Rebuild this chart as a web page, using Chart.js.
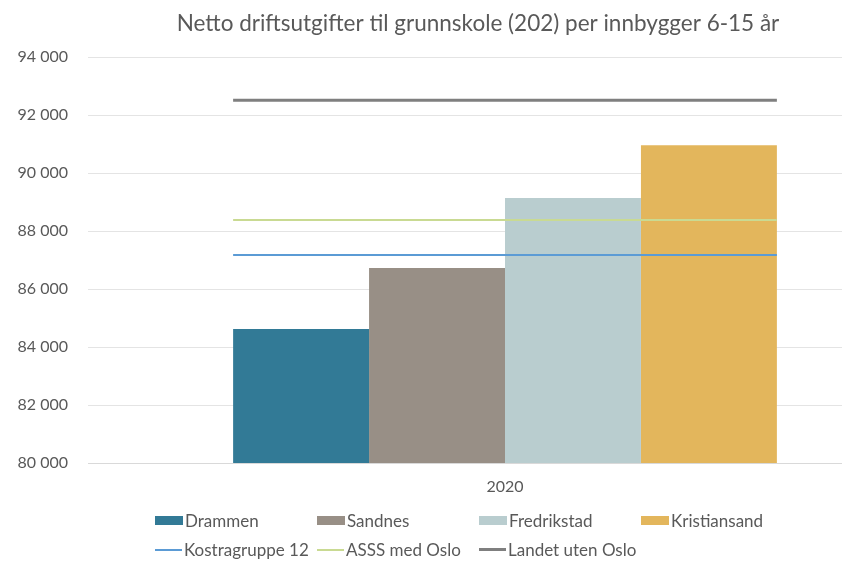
<!DOCTYPE html>
<html lang="no">
<head>
<meta charset="utf-8">
<script src="https://cdn.jsdelivr.net/npm/chart.js@4/dist/chart.umd.min.js"></script>
<style>
    html, body { margin: 0; padding: 0; background: #fff; overflow: hidden; }
    #wrap { position: relative; width: 842px; height: 561px; overflow: hidden; }
    #chartBox { position: absolute; left: 0; top: 0; width: 956px; height: 561px; }
    #legend {
        position: absolute; left: 155px; top: 511px;
        display: grid; grid-template-columns: repeat(4, 162px); row-gap: 10px;
        font-family: Lato, "Open Sans", sans-serif; font-size: 17px; color: #595959;
    }
    .item { display: flex; align-items: center; height: 19px; white-space: nowrap; }
    .swatch { width: 28px; height: 9px; margin-right: 2px; }
    .line { width: 27px; height: 2px; margin-right: 2px; }
</style>
</head>
<body>
<div id="wrap">
    <div id="chartBox"><canvas id="chart" width="956" height="561"></canvas></div>
    <div id="legend"></div>
</div>
<script>
const categories = ['2020'];

const barNames = ['Drammen', 'Sandnes', 'Fredrikstad', 'Kristiansand'];
const barValues = [84620, 86720, 89140, 90960];
const barColors = ['#327a96', '#988f86', '#b9cdcf', '#e3b65c'];

const lineNames = ['Kostragruppe 12', 'ASSS med Oslo', 'Landet uten Oslo'];
const lineValues = [87170, 88380, 92510];
const lineColors = ['#5b9bd5', '#c9da92', '#7f7f7f'];
const lineWidths = [2, 2, 3];

const yTicks = [80000, 82000, 84000, 86000, 88000, 90000, 92000, 94000];

// share of the category slot used by the bar group; the reference lines span the same width
const groupShare = 0.652;

const fmt = v => v.toLocaleString('nb-NO').replace(/\s/g, ' ');

const datasets = [];

barNames.forEach((name, i) => {
    datasets.push({
        type: 'bar',
        label: name,
        data: [{ x: 0, y: barValues[i] }],
        backgroundColor: barColors[i],
        borderWidth: 0,
        barPercentage: 1,
        categoryPercentage: groupShare,
        order: 1
    });
});

lineNames.forEach((name, i) => {
    datasets.push({
        type: 'line',
        label: name,
        data: [
            { x: -groupShare / 2, y: lineValues[i] },
            { x: groupShare / 2, y: lineValues[i] }
        ],
        borderColor: lineColors[i],
        borderWidth: lineWidths[i],
        pointRadius: 0,
        fill: false,
        order: 0
    });
});

const ctx = document.getElementById('chart').getContext('2d');
new Chart(ctx, {
    data: { datasets: datasets },
    options: {
        responsive: false,
        animation: false,
        layout: {
            padding: { left: 0, right: 0, top: 0, bottom: 58 }
        },
        plugins: {
            legend: { display: false },
            tooltip: { enabled: false },
            title: {
                display: true,
                text: 'Netto driftsutgifter til grunnskole (202) per innbygger 6-15 år',
                color: '#595959',
                font: { family: 'Lato', size: 22.5, weight: 'normal' },
                padding: { top: 10, bottom: 20 }
            }
        },
        scales: {
            x: {
                type: 'linear',
                offset: false,
                min: -0.5,
                max: 0.5,
                afterBuildTicks: scale => {
                    scale.ticks = categories.map((c, i) => ({ value: i }));
                },
                grid: { display: false, drawTicks: false },
                border: { display: true, color: '#d9d9d9', width: 1 },
                ticks: {
                    color: '#595959',
                    font: { family: 'Lato', size: 16 },
                    padding: 14,
                    callback: v => categories[v]
                },
                afterFit: scale => { scale.height = 40; }
            },
            y: {
                min: 80000,
                max: 94000,
                afterBuildTicks: scale => {
                    scale.ticks = yTicks.map(v => ({ value: v }));
                },
                afterFit: scale => { scale.width = 88; },
                grid: { color: '#e4e4e4', drawTicks: false },
                border: { display: false },
                ticks: {
                    color: '#595959',
                    font: { family: 'Lato', size: 16 },
                    padding: 20,
                    callback: v => fmt(v)
                }
            },
            // empty right axis, only keeps the plot area off the right edge
            yRight: {
                position: 'right',
                grid: { display: false, drawTicks: false },
                border: { display: false },
                ticks: { display: false },
                afterFit: scale => { scale.width = 34; }
            }
        }
    }
});

// legend in a 4 column grid like the original
const legend = document.getElementById('legend');
barNames.forEach((name, i) => {
    const el = document.createElement('div');
    el.className = 'item';
    el.innerHTML = `<span class="swatch" style="background:${barColors[i]}"></span>${name}`;
    legend.appendChild(el);
});
lineNames.forEach((name, i) => {
    const el = document.createElement('div');
    el.className = 'item';
    el.innerHTML = `<span class="line" style="background:${lineColors[i]};height:${lineWidths[i]}px"></span>${name}`;
    legend.appendChild(el);
});
</script>
</body>
</html>
